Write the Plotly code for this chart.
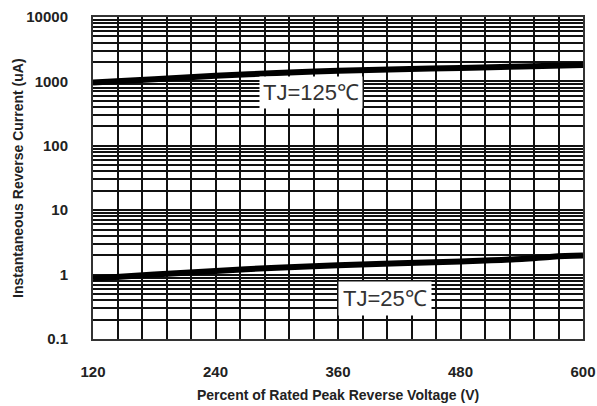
import plotly.graph_objects as go

# Data
voltage = [120, 180, 240, 300, 360, 420, 480, 540, 570, 600]
current_125 = [960, 1080, 1220, 1350, 1460, 1540, 1620, 1700, 1750, 1800]
current_25 = [0.87, 1.0, 1.14, 1.28, 1.40, 1.50, 1.60, 1.75, 1.90, 1.98]

x_ticks = list(range(120, 601, 24))
x_labels = [str(v) if v % 120 == 0 else "" for v in x_ticks]
y_ticks = []
y_labels = []
for e in range(-1, 4):
    for k in range(1, 10):
        y_ticks.append(k * 10 ** e)
        y_labels.append(("%g" % (10 ** e)) if k == 1 else "")
y_ticks.append(10000)
y_labels.append("10000")

fig = go.Figure()
fig.add_trace(go.Scatter(x=voltage, y=current_125, mode="lines",
                         line=dict(color="black", width=6, shape="spline"),
                         showlegend=False, hoverinfo="skip"))
fig.add_trace(go.Scatter(x=voltage, y=current_25, mode="lines",
                         line=dict(color="black", width=6, shape="spline"),
                         showlegend=False, hoverinfo="skip"))

ann_font = dict(family="Liberation Sans, Arial", size=22, color="#333", weight="normal")
axis_font = dict(family="Liberation Sans, Arial", size=15, color="#222", weight="bold")
title_font = dict(family="Liberation Sans, Arial", size=14, color="#222", weight="bold")

fig.add_annotation(x=334, y=2.826, xref="x", yref="y", text="TJ=125℃",
                   showarrow=False, bgcolor="white", borderpad=3, font=ann_font)
fig.add_annotation(x=406, y=-0.373, xref="x", yref="y", text="TJ=25℃",
                   showarrow=False, bgcolor="white", borderpad=4, font=ann_font)

# Axis titles placed in paper coordinates relative to plot area
plot_w = 597 - 93 - 14
plot_h = 406 - 17 - 67
fig.add_annotation(x=(338 - 93) / plot_w, y=-(395 - 339) / plot_h, xref="paper", yref="paper",
                   showarrow=False, text="Percent of Rated Peak Reverse Voltage (V)",
                   font=title_font, xanchor="center", yanchor="middle")
fig.add_annotation(x=-(93 - 18) / plot_w, y=(339 - 178) / plot_h, xref="paper", yref="paper",
                   showarrow=False, text="Instantaneous Reverse Current (uA)", textangle=-90,
                   font=title_font, xanchor="center", yanchor="middle")

fig.update_xaxes(range=[120, 600], tickmode="array", tickvals=x_ticks, ticktext=x_labels,
                 showgrid=True, gridcolor="#111", gridwidth=1.8,
                 showline=True, linecolor="#333", linewidth=2, mirror=True,
                 ticks="", ticklabelstandoff=18, tickfont=axis_font, zeroline=False,
                 automargin=False)
fig.update_yaxes(type="log", range=[-1, 4], tickmode="array", tickvals=y_ticks, ticktext=y_labels,
                 showgrid=True, gridcolor="#111", gridwidth=1.8,
                 showline=True, linecolor="#333", linewidth=2, mirror=True,
                 ticks="", ticklabelstandoff=20, tickfont=axis_font, zeroline=False,
                 automargin=False)
fig.update_layout(width=597, height=406, margin=dict(l=93, r=14, t=17, b=67),
                  plot_bgcolor="white", paper_bgcolor="white",
                  font=dict(family="Liberation Sans, Arial"))
fig.write_html("out.html", config={"displayModeBar": False},
               post_script="document.body.style.margin='0';")
